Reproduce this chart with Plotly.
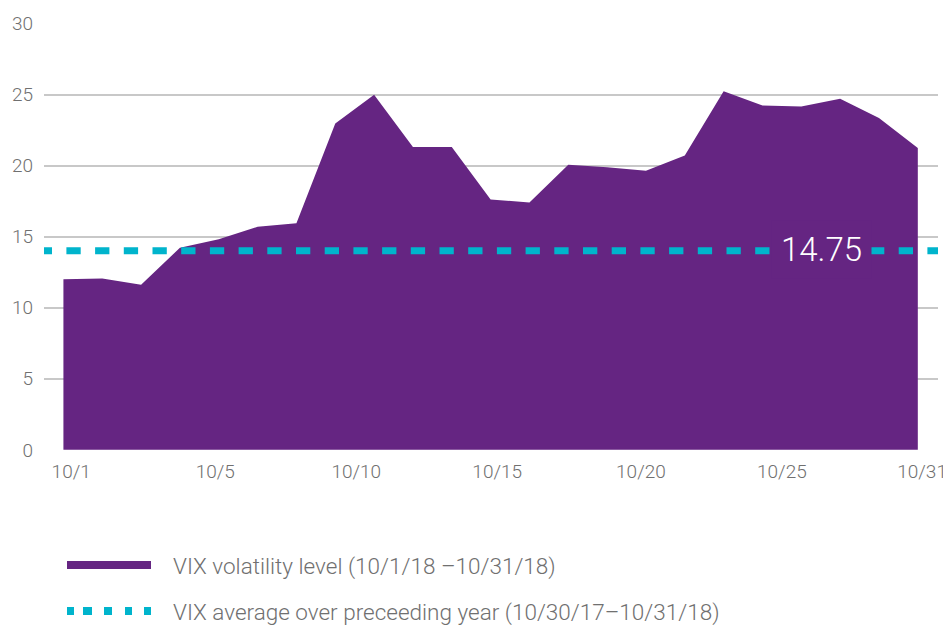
import plotly.graph_objects as go

# ---- data ----
trading_days = ["10/1", "10/2", "10/3", "10/4", "10/5", "10/8", "10/9", "10/10", "10/11", "10/12",
                "10/15", "10/16", "10/17", "10/18", "10/19", "10/22", "10/23", "10/24", "10/25",
                "10/26", "10/29", "10/30", "10/31"]
vix_close = [12.00, 12.05, 11.61, 14.22, 14.82, 15.69, 15.95, 22.96, 24.98, 21.31,
             21.30, 17.62, 17.40, 20.06, 19.89, 19.64, 20.71, 25.23, 24.22, 24.16,
             24.70, 23.35, 21.23]
avg_level = 14.0
avg_label = "14.75"
tick_labels = ["10/1", "10/5", "10/10", "10/15", "10/20", "10/25", "10/31"]
y_ticks = [0, 5, 10, 15, 20, 25, 30]
legend_labels = ["VIX volatility level (10/1/18 \u201310/31/18)",
                 "VIX average over preceeding year (10/30/17\u201310/31/18)"]

PURPLE = "#652582"
CYAN = "#00b4cc"
GRID = "#c8c8c8"
TXT = "#707070"
FONT = "Roboto"

OFF = 8  # page body margin
W, H = 951 - OFF, 626 - OFF
L, R, T, B = 44 - OFF, 13, 23 - OFF, 176
pw, ph = W - L - R, H - T - B

def px(x):
    return (x - OFF - L) / pw

def py(y):
    return (H - B - (y - OFF)) / ph

xi = list(range(len(vix_close)))
x_min, x_max = -0.5, 22.52
step_px = pw / (x_max - x_min)
tick_pos = [0.2, 3.91, 7.54, 11.17, 14.87, 18.5, 22.11]

fig = go.Figure()
fig.add_trace(go.Scatter(
    x=xi, y=vix_close, mode="lines", fill="tozeroy",
    line=dict(color=PURPLE, width=0), fillcolor=PURPLE,
    hoverinfo="skip", showlegend=False))
fig.add_trace(go.Scatter(
    x=[x_min - 6.3 / step_px, x_max + 1], y=[avg_level, avg_level], mode="lines",
    line=dict(color=CYAN, width=7, dash="14.3px,14.4px"),
    hoverinfo="skip", showlegend=False))

fig.add_annotation(x=19.51, y=avg_level, text=avg_label, showarrow=False,
                   font=dict(family=FONT, size=33, color="white", weight=300),
                   bgcolor=PURPLE, borderpad=9, yshift=1)

# custom legend
shapes = [
    dict(type="line", xref="paper", yref="paper", x0=px(67), x1=px(151), y0=py(565), y1=py(565),
         line=dict(color=PURPLE, width=8)),
    dict(type="line", xref="paper", yref="paper", x0=px(67), x1=px(151), y0=py(611), y1=py(611),
         line=dict(color=CYAN, width=8, dash="7px,9px,9px,12px,8px,13px,7px,12px,7px,100px")),
]
for lbl, yy in zip(legend_labels, [566, 612]):
    fig.add_annotation(xref="paper", yref="paper", x=px(171), y=py(yy), xanchor="left", yanchor="middle",
                       text=lbl, showarrow=False,
                       font=dict(family=FONT, size=22.5, color=TXT, weight=300))

fig.update_layout(
    width=W, height=H, margin=dict(l=L, r=R, t=T, b=B, autoexpand=False),
    paper_bgcolor="white", plot_bgcolor="white",
    shapes=shapes, showlegend=False,
    font=dict(family=FONT, color=TXT),
)
fig.update_xaxes(range=[x_min, x_max], tickmode="array", tickvals=tick_pos, ticktext=tick_labels,
                 showgrid=False, zeroline=False, showline=False, ticks="", automargin=False,
                 ticklabeloverflow="allow",
                 tickfont=dict(family=FONT, size=19, color=TXT, weight=300), ticklabelstandoff=8)
fig.update_yaxes(range=[-0.01, 30.03], tickmode="array", tickvals=y_ticks, showgrid=True,
                 gridcolor=GRID, gridwidth=2, zeroline=False, showline=False, ticks="", automargin=False,
                 tickfont=dict(family=FONT, size=19, color=TXT, weight=300), ticklabelstandoff=10,
                 layer="below traces")

fig.write_html("out.html")
